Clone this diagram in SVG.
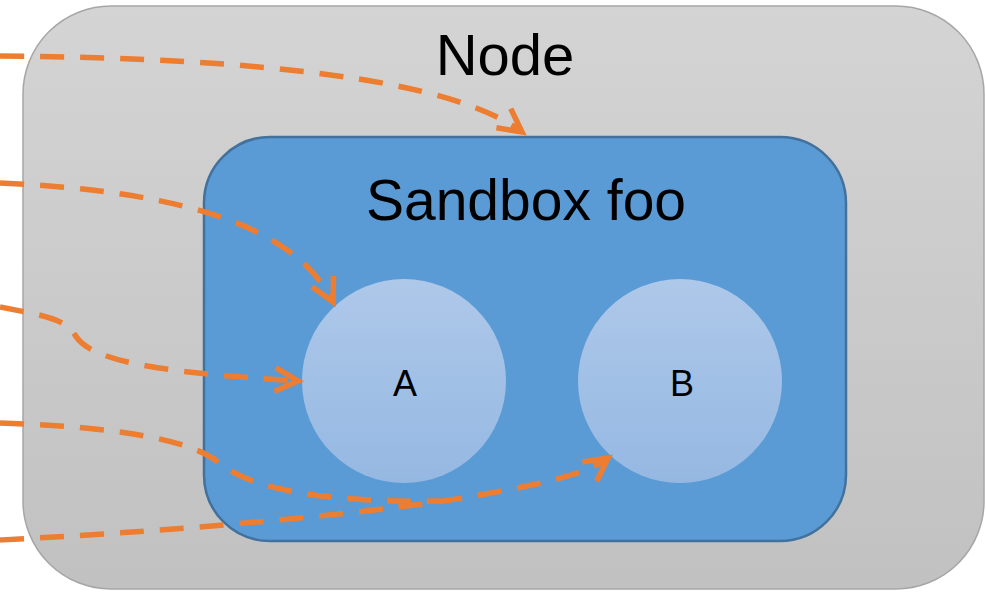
<svg xmlns="http://www.w3.org/2000/svg" width="986" height="592" viewBox="0 0 986 592">
<defs>
<linearGradient id="gNode" x1="0" y1="0" x2="0" y2="1"><stop offset="0" stop-color="#d4d4d4"/><stop offset="1" stop-color="#c1c1c1"/></linearGradient>
<linearGradient id="gCirc" x1="0" y1="0" x2="0" y2="1"><stop offset="0" stop-color="#aec8e9"/><stop offset="1" stop-color="#95b8e2"/></linearGradient>
<marker id="arr" markerUnits="userSpaceOnUse" markerWidth="40" markerHeight="40" viewBox="-30 -20 40 40" refX="0" refY="0" orient="auto" overflow="visible">
<path d="M-23,-12 L0,0 L-23,12" fill="none" stroke="#ed7d31" stroke-width="5.5" stroke-linejoin="miter"/>
</marker>
</defs>
<style>
.lbl{font-family:"Liberation Sans",Arial,sans-serif;fill:#000;text-anchor:middle}
.c{fill:none;stroke:#ed7d31;stroke-width:5.5;stroke-dasharray:24 16}
</style>
<rect x="0" y="0" width="986" height="592" fill="#ffffff"/>
<g id="node">
<rect x="23" y="6" width="961" height="583" rx="88" ry="88" fill="url(#gNode)" stroke="#a6a6a6" stroke-width="1.5"/>
<text class="lbl" x="505" y="75" font-size="58">Node</text>
</g>
<g id="sandbox">
<rect x="204" y="137" width="642" height="404" rx="66" ry="66" fill="#5b9bd5" stroke="#41719c" stroke-width="2.5"/>
<text class="lbl" x="526" y="220" font-size="57">Sandbox foo</text>
</g>
<g id="nodeA">
<circle cx="404" cy="381" r="102" fill="url(#gCirc)"/>
<text class="lbl" x="405" y="396" font-size="36">A</text>
</g>
<g id="nodeB">
<circle cx="680" cy="381" r="102" fill="url(#gCirc)"/>
<text class="lbl" x="682" y="396" font-size="36">B</text>
</g>
<g id="connectors">
<path class="c" d="M0,56 C250,58 450,78 522,132" marker-end="url(#arr)"/>
<path class="c" d="M0,183 C150,190 290,215 333,302" marker-end="url(#arr)"/>
<path class="c" d="M0,307 C40,315 65,318 75,335 C90,360 150,372 298,381" marker-end="url(#arr)"/>
<path class="c" d="M0,423 C120,427 190,440 218,462 C250,490 330,503 440,501"/>
<path class="c" d="M0,540 C200,530 400,510 480,495 C540,484 585,475 608,458" marker-end="url(#arr)"/>
</g>
</svg>
